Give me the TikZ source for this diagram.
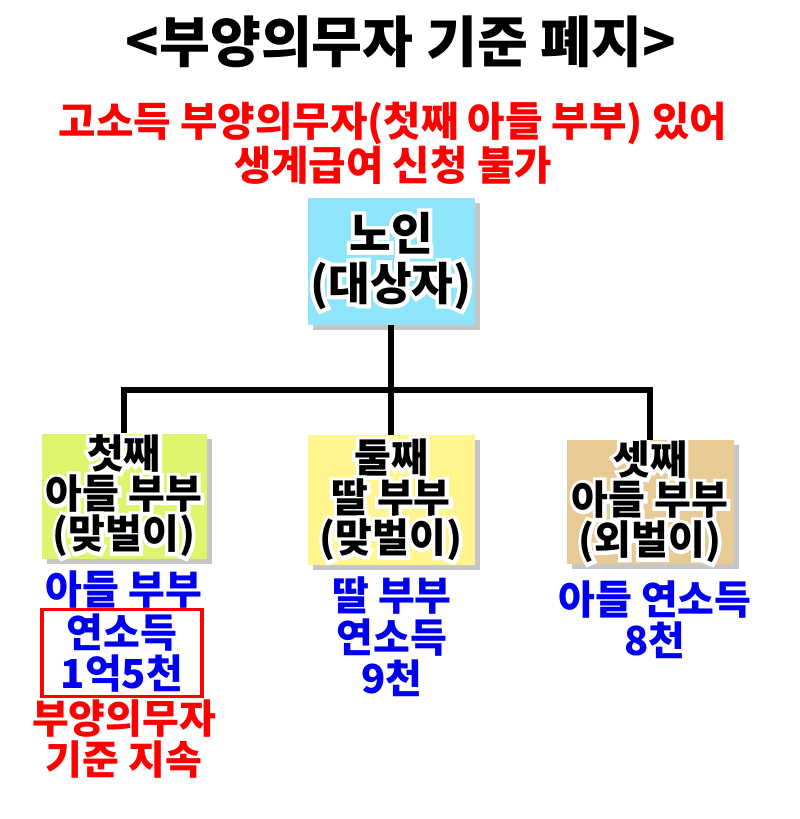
\documentclass[tikz,border=0pt]{standalone}
\usepackage{fontspec}
\IfFontExistsTF{Noto Sans CJK KR Black}
    {\setmainfont{Noto Sans CJK KR}[BoldFont={Noto Sans CJK KR Black}]}
    {\setmainfont{Noto Sans CJK KR}}
\usetikzlibrary{shadows,positioning}
\definecolor{skyblue}{HTML}{8EE4F9}
\definecolor{limey}{HTML}{DDF56C}
\definecolor{paleyellow}{HTML}{FFF58C}
\definecolor{kraft}{HTML}{E8CA94}
\definecolor{brightred}{HTML}{FF0000}
\definecolor{brightblue}{HTML}{0000F0}
\newcommand{\halo}[1]{\setbox0\hbox{#1}%
    \hbox to \wd0{\hss\makebox[0pt]{\color{white}\addfontfeature{FakeBold=18}#1}\hss}\llap{\box0}}

\begin{document}
\begin{tikzpicture}
    [x=0.75pt, y=-0.75pt,
    font=\bfseries,
    card/.style={inner sep=0pt, minimum width=167*0.75pt, minimum height=127*0.75pt,
        align=center, drop shadow={shadow xshift=4pt, shadow yshift=-4pt, opacity=0.45},
        font=\bfseries\fontsize{30}{30}\selectfont},
    income/.style={align=center, text=brightblue, font=\bfseries\fontsize{30}{31}\selectfont},
    wire/.style={line width=3.8pt}]
        \useasboundingbox (0,0) rectangle (800,819);
        %% Headings
        \node[font=\bfseries\fontsize{41.5}{44}\selectfont] (title) at (401,42) {<부양의무자 기준 폐지>};
        \node[align=center, text=brightred, font=\bfseries\fontsize{30.5}{28}\selectfont] (notice) at (393,143)
            {고소득 부양의무자(첫째 아들 부부) 있어\\생계급여 신청 불가};

        %% Family tree
        \node[card, fill=skyblue, font=\bfseries\fontsize{34}{37}\selectfont] (elder) at (391,261)
            {\halo{노인}\\\halo{(대상자)}};
        \node[card, fill=limey, minimum width=165*0.75pt, minimum height=125*0.75pt] (first) at (124,496)
            {\halo{첫째}\\\halo{아들 부부}\\\halo{(맞벌이)}};
        \node[card, fill=paleyellow, minimum height=130*0.75pt] (second) at (391,500)
            {\halo{둘째}\\\halo{딸 부부}\\\halo{(맞벌이)}};
        \node[card, fill=kraft, minimum height=124*0.75pt] (third) at (650,502)
            {\halo{셋째}\\\halo{아들 부부}\\\halo{(외벌이)}};

        \coordinate (hub) at (391,390);
        \draw[wire] (elder.south) -- (hub);
        \draw[wire] (first.north) |- (hub) -| (third.north);
        \draw[wire] (hub) -- (second.north);

        %% Incomes
        \node[income] (firstwho) at (124,590) {아들 부부};
        \node[income, draw=brightred, line width=2.4pt, minimum width=160*0.75pt, minimum height=82*0.75pt]
            (firstsum) at (122,653) {연소득\\1억5천};
        \node[income, text=brightred] (firstnote) at (124,739) {부양의무자\\기준 지속};
        \node[income] (secondsum) at (392,637) {딸 부부\\연소득\\9천};
        \node[income] (thirdsum) at (655,620) {아들 연소득\\8천};
    \end{tikzpicture}
\end{document}
